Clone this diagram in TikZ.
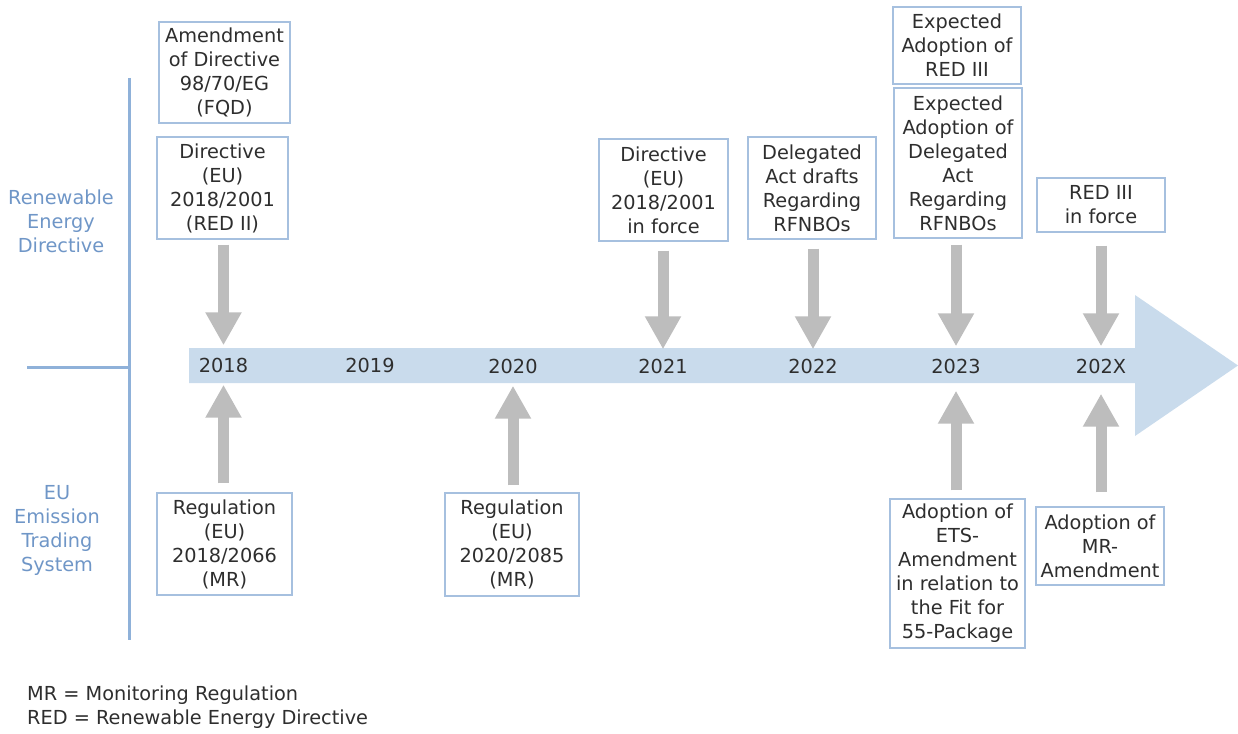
\documentclass[tikz,border=0pt]{standalone}
\usepackage{fontspec}
\setmainfont{DejaVu Sans}
\usetikzlibrary{arrows.meta}

\definecolor{bandblue}{HTML}{C9DBEC}
\definecolor{boxline}{HTML}{A6C0DF}
\definecolor{axisblue}{HTML}{8FB1D9}
\definecolor{labelblue}{HTML}{6F96C7}
\definecolor{textgray}{HTML}{2E2E2E}
\definecolor{arrowgray}{HTML}{BDBDBD}
\newcommand\evfont{\fontsize{19.3}{24}\selectfont}

\begin{document}
\begin{tikzpicture}[x=1pt,y=-1pt,
  evbox/.style={draw=boxline, line width=1.3pt, fill=white, inner sep=0pt,
    align=center, text=textgray, font=\evfont},
  yearlbl/.style={minimum height=34pt, minimum width=20pt, inner sep=0pt,
    text=textgray, font=\evfont},
  sidelbl/.style={align=center, text=labelblue, font=\evfont, inner sep=0pt},
  bigarrow/.style={draw=arrowgray, line width=11pt,
    -{Triangle[width=34pt,length=33pt]}},
  axisline/.style={draw=axisblue, line width=3pt}]

\useasboundingbox (0,0) rectangle (1238,733);

% axes separating the two rows
\coordinate (axtop) at (129.5,78);
\coordinate (axbot) at (129.5,640);
\coordinate (axleft) at (27,367);
\draw[axisline] (axtop) -- (axbot);
\draw[axisline] (axleft) -- (axleft -| axtop);

% row labels
\node[sidelbl] (lblred) at (61,221) {Renewable\\Energy\\Directive};
\node[sidelbl] (lblets) at (57,530) {EU\\Emission\\Trading\\System};

% timeline band
\fill[bandblue] (189,348) -- (1135,348) -- (1135,295) -- (1238,365.5)
  -- (1135,436) -- (1135,383) -- (189,383) -- cycle;

% years
\node[yearlbl] (y2018) at (223.5,365.5) {2018};
\node[yearlbl] (y2019) at (370,365.5) {2019};
\node[yearlbl] (y2020) at (513,366.5) {2020};
\node[yearlbl] (y2021) at (663,366.5) {2021};
\node[yearlbl] (y2022) at (813,366.5) {2022};
\node[yearlbl] (y2023) at (956,366.5) {2023};
\node[yearlbl] (y202X) at (1101,366.5) {202X};

% Renewable Energy Directive events
\node[evbox, minimum width=131pt, minimum height=101pt] (fqd) at (224.5,72.5)
  {Amendment\\of Directive\\98/70/EG\\(FQD)};
\node[evbox, minimum width=131pt, minimum height=102pt] (red2) at (222.5,188)
  {Directive\\(EU)\\2018/2001\\(RED II)};
\node[evbox, minimum width=129pt, minimum height=102pt] (inforce) at (663.5,190)
  {Directive\\(EU)\\2018/2001\\in force};
\node[evbox, minimum width=128pt, minimum height=102pt] (drafts) at (812,188)
  {Delegated\\Act drafts\\Regarding\\RFNBOs};
\node[evbox, minimum width=128pt, minimum height=77pt] (red3exp) at (957,45.5)
  {Expected\\Adoption of\\RED III};
\node[evbox, minimum width=128pt, minimum height=150pt] (daexp) at (958,163)
  {Expected\\Adoption of\\Delegated\\Act\\Regarding\\RFNBOs};
\node[evbox, minimum width=128pt, minimum height=54pt] (red3force) at (1101,205)
  {RED III\\in force};

% Emission Trading System events
\node[evbox, minimum width=135pt, minimum height=102pt] (reg2018) at (224.5,544)
  {Regulation\\(EU)\\2018/2066\\(MR)};
\node[evbox, minimum width=134pt, minimum height=103pt] (reg2020) at (512,544.5)
  {Regulation\\(EU)\\2020/2085\\(MR)};
\node[evbox, minimum width=135pt, minimum height=149pt] (ets) at (957.5,573.5)
  {Adoption of\\ETS-\\Amendment\\in relation to\\the Fit for\\55-Package};
\node[evbox, minimum width=128pt, minimum height=78pt] (mramend) at (1100,546)
  {Adoption of\\MR-\\Amendment};

% arrows from the events down onto the timeline
\draw[bigarrow] ([yshift=-5pt]red2.south -| y2018) -- ([yshift=3pt]y2018.north);
\draw[bigarrow] ([yshift=-9pt]inforce.south -| y2021) -- ([yshift=0pt]y2021.north);
\draw[bigarrow] ([yshift=-9pt]drafts.south -| y2022) -- ([yshift=0pt]y2022.north);
\draw[bigarrow] ([yshift=-6pt]daexp.south -| y2023) -- ([yshift=3pt]y2023.north);
\draw[bigarrow] ([yshift=-13pt]red3force.south -| y202X) -- ([yshift=3pt]y202X.north);

% arrows from the events up onto the timeline
\draw[bigarrow] ([yshift=9pt]reg2018.north -| y2018) -- ([yshift=-2pt]y2018.south);
\draw[bigarrow] ([yshift=7pt]reg2020.north -| y2020) -- ([yshift=-2pt]y2020.south);
\draw[bigarrow] ([yshift=8pt]ets.north -| y2023) -- ([yshift=-7pt]y2023.south);
\draw[bigarrow] ([yshift=14pt]mramend.north -| y202X) -- ([yshift=-10pt]y202X.south);

% abbreviations
\node[anchor=west, align=left, inner sep=0pt, text=textgray, font=\evfont]
  (legend) at (27,707) {MR = Monitoring Regulation\\RED = Renewable Energy Directive};

\end{tikzpicture}
\end{document}
